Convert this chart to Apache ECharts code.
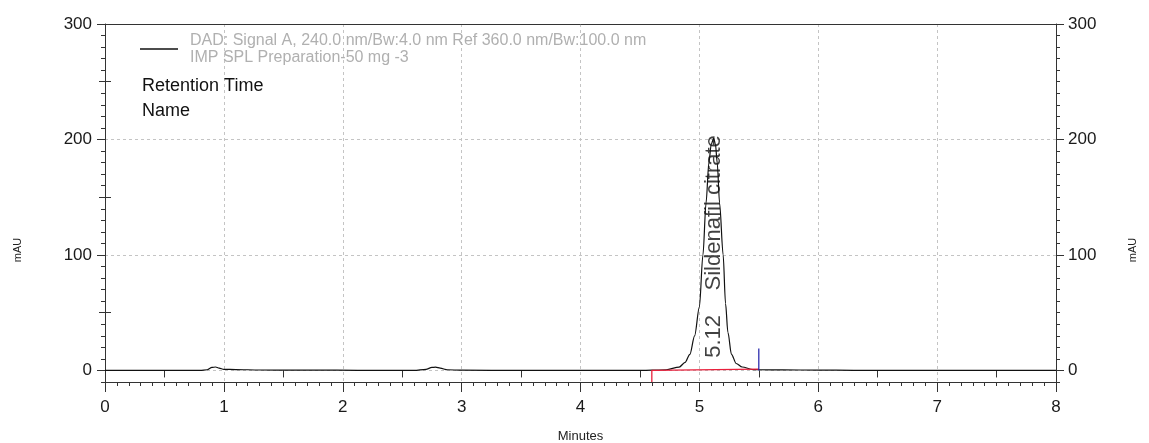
<!DOCTYPE html>
<html>
<head>
<meta charset="utf-8">
<title>Chromatogram</title>
<script src="https://cdn.jsdelivr.net/npm/echarts@6/dist/echarts.min.js"></script>
<style>
  html, body { margin: 0; padding: 0; background: #ffffff; }
  #chart { width: 1149px; height: 443px; }
</style>
</head>
<body>
<div id="chart"></div>
<script>
// Detector trace: retention time (min) and absorbance (mAU)
const retentionTimes = [
  0.00, 0.50, 0.80, 0.86, 0.90, 0.93, 0.96, 1.00, 1.10, 1.30, 1.60, 1.85, 1.95,
  2.30, 2.60, 2.70, 2.75, 2.78, 2.82, 2.88, 3.00, 3.50, 4.00, 4.50, 4.60, 4.72,
  4.83, 4.88, 4.92, 4.96, 5.00, 5.03, 5.056, 5.08, 5.10, 5.12, 5.135, 5.15, 5.17,
  5.20, 5.22, 5.24, 5.27, 5.31, 5.36, 5.45, 5.50, 5.70, 6.00, 6.30, 7.00, 8.00
];
const absorbance = [
  0.0, 0.0, 0.1, 0.6, 2.6, 3.0, 2.0, 1.0, 0.8, 0.4, 0.2, 0.4, 0.2,
  0.0, 0.1, 1.0, 2.6, 2.8, 2.0, 0.6, 0.2, 0.0, 0.0, 0.1, 0.2, 0.6,
  2.9, 7.0, 14.0, 30.0, 55.0, 100.0, 145.0, 180.0, 196.0, 201.0, 196.0, 180.0, 145.0,
  100.0, 58.0, 33.0, 14.0, 6.0, 3.0, 0.8, 0.6, 0.5, 0.3, 0.1, 0.0, 0.0
];

// Integration baseline (drop line at peak start, then baseline to peak end)
const baselineTimes = [4.60, 4.60, 5.50];
const baselineValues = [-10, 0, 1.2];

// Peak end marker
const peakEndTimes = [5.50, 5.50];
const peakEndValues = [0, 19];

// Peak annotation
const peakRetention = 5.12;
const peakName = 'Sildenafil citrate';
const peakLabelBase = 11;

// Axis ticks
const xTicks = [0, 1, 2, 3, 4, 5, 6, 7, 8];
const xHalfTicks = [0.5, 1.5, 2.5, 3.5, 4.5, 5.5, 6.5, 7.5];
const yTicks = [0, 100, 200, 300];
const yHalfTicks = [50, 150, 250];

const legendLines = [
  'DAD: Signal A, 240.0 nm/Bw:4.0 nm Ref 360.0 nm/Bw:100.0 nm',
  'IMP SPL Preparation-50 mg -3'
];
const infoLines = ['Retention Time', 'Name'];
const yUnit = 'mAU';

const FONT = "'Liberation Sans', Arial, sans-serif";
const AXIS_COLOR = '#333333';
const GRID_COLOR = '#c4c4c4';

const pair = (xs, ys) => xs.map((x, i) => [x, ys[i]]);

const Y_MIN = -10, Y_MAX = 300;

function yAxisSet(position) {
  const isLeft = position === 'left';
  return [
    { // minor ticks every 10
      type: 'value', position, min: Y_MIN, max: Y_MAX, interval: 10,
      axisLine: { show: true, onZero: false, lineStyle: { color: AXIS_COLOR, width: 1 } },
      axisTick: { show: true, length: 4, lineStyle: { color: AXIS_COLOR } },
      axisLabel: { show: false },
      splitLine: { show: false }
    },
    { // mid ticks at 50s
      type: 'value', position, min: Y_MIN, max: Y_MAX,
      axisLine: { show: false },
      axisTick: { show: true, length: 6, customValues: yHalfTicks, lineStyle: { color: AXIS_COLOR } },
      axisLabel: { show: false },
      splitLine: { show: false }
    },
    { // major ticks, labels and gridlines
      type: 'value', position, min: Y_MIN, max: Y_MAX,
      axisLine: { show: false },
      axisTick: { show: true, length: 8, customValues: yTicks, lineStyle: { color: AXIS_COLOR } },
      axisLabel: {
        show: true, customValues: yTicks, margin: isLeft ? 13 : 12,
        fontFamily: FONT, fontSize: 17, color: '#1a1a1a'
      },
      splitLine: isLeft
        ? { show: true, lineStyle: { color: GRID_COLOR, type: [3, 3], width: 1 } }
        : { show: false }
    }
  ];
}

const chart = echarts.init(document.getElementById('chart'), null, { renderer: 'canvas' });

const unitText = (x) => ({
  type: 'text',
  x, y: 250,
  rotation: Math.PI / 2,
  style: {
    text: yUnit, fill: '#222', fontFamily: FONT, fontSize: 11,
    textAlign: 'center', textVerticalAlign: 'middle'
  }
});

chart.setOption({
  animation: false,
  backgroundColor: '#ffffff',
  grid: {
    left: 105, right: 93, top: 24, bottom: 61,
    containLabel: false, outerBoundsMode: 'none'
  },
  title: {
    text: infoLines.join('\n'),
    left: 142, top: 74, padding: 0,
    textStyle: { fontFamily: FONT, fontSize: 18, fontWeight: 'normal', color: '#111', lineHeight: 25 }
  },
  legend: {
    left: 140, top: 32, padding: 0,
    itemWidth: 38, itemHeight: 1.5,
    icon: 'rect',
    selectedMode: false,
    data: [{ name: legendLines.join('\n') }],
    textStyle: {
      fontFamily: FONT, fontSize: 16, color: '#b0b0b0', lineHeight: 17,
      padding: [0, 0, 0, 7]
    }
  },
  graphic: [unitText(18), unitText(1133)],
  xAxis: [
    {
      type: 'value', position: 'bottom', min: 0, max: 8, interval: 1,
      axisLine: { show: true, onZero: false, lineStyle: { color: AXIS_COLOR } },
      axisTick: { show: true, length: 10, lineStyle: { color: AXIS_COLOR } },
      minorTick: { show: true, splitNumber: 10, length: 4, lineStyle: { color: AXIS_COLOR } },
      axisLabel: {
        show: true, margin: 17, fontFamily: FONT, fontSize: 17, color: '#1a1a1a',
        customValues: xTicks
      },
      splitLine: { show: true, lineStyle: { color: GRID_COLOR, type: [3, 3], width: 1 } },
      name: 'Minutes', nameLocation: 'middle', nameGap: 48,
      nameTextStyle: { fontFamily: FONT, fontSize: 13, color: '#222' }
    },
    {
      type: 'value', position: 'bottom', min: 0, max: 8,
      axisLine: { show: false },
      axisTick: { show: true, length: 7, customValues: xHalfTicks, lineStyle: { color: AXIS_COLOR } },
      axisLabel: { show: false },
      splitLine: { show: false }
    },
    {
      type: 'value', position: 'top', min: 0, max: 8,
      axisLine: { show: true, onZero: false, lineStyle: { color: AXIS_COLOR } },
      axisTick: { show: false },
      axisLabel: { show: false },
      splitLine: { show: false }
    }
  ],
  yAxis: [...yAxisSet('left'), ...yAxisSet('right')],
  series: [
    {
      name: legendLines.join('\n'),
      type: 'line',
      xAxisIndex: 0, yAxisIndex: 0,
      data: pair(retentionTimes, absorbance),
      symbol: 'none',
      smooth: 0.3,
      smoothMonotone: 'x',
      lineStyle: { color: '#111111', width: 1.2 },
      itemStyle: { color: '#111111' },
      z: 3
    },
    {
      name: 'baseline',
      type: 'line',
      xAxisIndex: 0, yAxisIndex: 0,
      data: pair(baselineTimes, baselineValues),
      symbol: 'none',
      lineStyle: { color: '#e8203c', width: 1.3 },
      z: 4
    },
    {
      name: 'peak end',
      type: 'line',
      xAxisIndex: 0, yAxisIndex: 0,
      data: pair(peakEndTimes, peakEndValues),
      symbol: 'none',
      lineStyle: { color: '#1c1ca8', width: 1.2 },
      z: 4
    },
    {
      name: 'peak label',
      type: 'scatter',
      xAxisIndex: 0, yAxisIndex: 0,
      data: [[peakRetention, peakLabelBase]],
      symbolSize: 1,
      itemStyle: { color: 'transparent' },
      label: {
        show: true,
        position: 'inside',
        rotate: 90,
        align: 'left',
        verticalAlign: 'middle',
        formatter: peakRetention.toFixed(2) + '    ' + peakName,
        fontFamily: FONT, fontSize: 22, color: '#111'
      },
      z: 5
    }
  ]
});
</script>
</body>
</html>
